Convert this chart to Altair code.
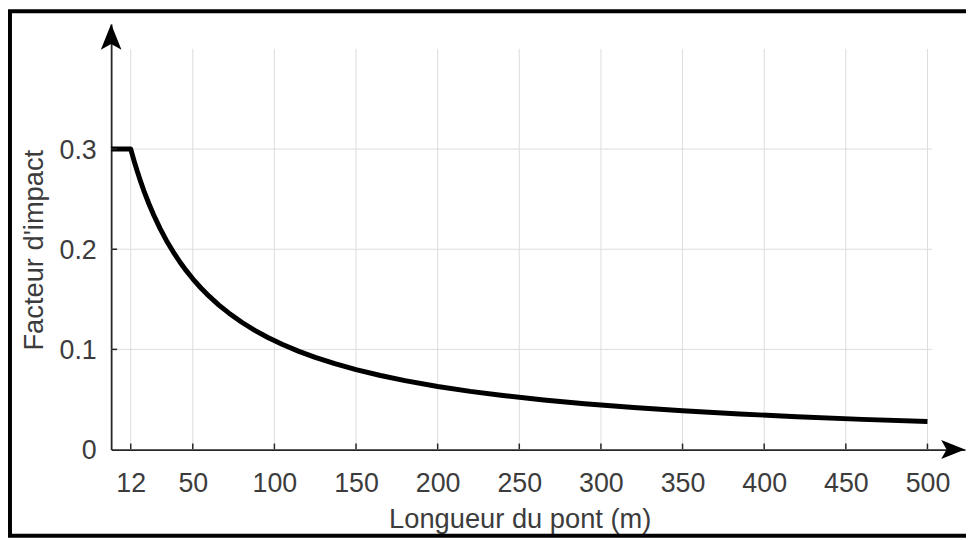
import altair as alt
import pandas as pd

# ---- data ----
longueur = [0, 12, 14, 16, 18, 20, 23, 26, 30, 34, 38, 42, 46, 50, 55, 60, 66, 72,
            80, 88, 96, 105, 115, 125, 137, 150, 165, 180, 200, 220, 240, 265, 290,
            320, 350, 385, 420, 460, 500]
facteur = [0.300, 0.300, 0.2885, 0.2778, 0.2679, 0.2586, 0.2459, 0.2344, 0.2206,
           0.2083, 0.1974, 0.1875, 0.1786, 0.1705, 0.1613, 0.1531, 0.1442, 0.1364,
           0.1271, 0.1190, 0.1119, 0.1049, 0.0980, 0.0920, 0.0857, 0.0798, 0.0739,
           0.0688, 0.0630, 0.0581, 0.0540, 0.0495, 0.0457, 0.0419, 0.0387, 0.0355,
           0.0328, 0.0301, 0.0279]
x_ticks = [12, 50, 100, 150, 200, 250, 300, 350, 400, 450, 500]
y_ticks = [0, 0.1, 0.2, 0.3]
x_title = "Longueur du pont (m)"
y_title = "Facteur d'impact"

# ---- layout ----
X_MAX = 523        # end of the x axis arrow
Y_MAX = 0.4248     # end of the y axis arrow
GRID_X_END = 503
GRID_Y_END = 0.4
W, H = 861, 429
PAD = {"left": 104, "top": 14, "right": 1, "bottom": 89}
FONT = "Liberation Sans"
TXT = "#3c3c3c"
AX = "#262626"
GRID = "#dddddd"
TICK_LEN = 6

xs = alt.Scale(domain=[0, X_MAX], nice=False, zero=False)
ys = alt.Scale(domain=[0, Y_MAX], nice=False, zero=False)

x_axis = alt.Axis(
    values=x_ticks, title=x_title, grid=False, ticks=False, tickSize=0,
    domain=True, domainColor=AX, domainWidth=1.8,
    labelFont=FONT, labelFontSize=27, labelColor=TXT, labelPadding=21,
    labelFlush=False, labelOverlap=False,
    titleFont=FONT, titleFontSize=27.5, titleFontWeight="normal", titleColor=TXT,
    titleX=412, titleY=79, titleAlign="center", titleBaseline="alphabetic")
y_axis = alt.Axis(
    values=y_ticks, format=".1~f", title=y_title, grid=False, ticks=False, tickSize=0,
    domain=True, domainColor=AX, domainWidth=1.8,
    labelFont=FONT, labelFontSize=27, labelColor=TXT, labelPadding=15,
    labelOffset=1.5, labelFlush=False, labelOverlap=False,
    titleFont=FONT, titleFontSize=27.5, titleFontWeight="normal", titleColor=TXT,
    titleAngle=270, titleX=-69, titleY=227.5, titleAlign="center",
    titleBaseline="alphabetic")

curve_df = pd.DataFrame({"L": longueur, "I": facteur})
xt_df = pd.DataFrame({"v": x_ticks})
yt_df = pd.DataFrame({"v": [v for v in y_ticks if v > 0]})

# vertical grid
vgrid = alt.Chart(xt_df).mark_rule(color=GRID, strokeWidth=1).transform_calculate(
    lo="0", hi=str(GRID_Y_END)
).encode(
    x=alt.X("v:Q", scale=xs, axis=x_axis),
    y=alt.Y("lo:Q", scale=ys, axis=y_axis),
    y2="hi:Q",
)
# horizontal grid
hgrid = alt.Chart(yt_df).mark_rule(color=GRID, strokeWidth=1).transform_calculate(
    lo="0", hi=str(GRID_X_END)
).encode(
    y=alt.Y("v:Q", scale=ys, axis=y_axis),
    x=alt.X("lo:Q", scale=xs, axis=x_axis),
    x2="hi:Q",
)

# curve
curve = alt.Chart(curve_df).mark_line(color="black", strokeWidth=5, strokeJoin="round").encode(
    x=alt.X("L:Q", scale=xs, axis=x_axis),
    y=alt.Y("I:Q", scale=ys, axis=y_axis),
)

# inward ticks
xtick = alt.Chart(xt_df).mark_rule(color=AX, strokeWidth=1.5).encode(
    x=alt.X("v:Q", scale=xs, axis=x_axis),
    y=alt.value(H),
    y2=alt.value(H - TICK_LEN),
)
ytick = alt.Chart(yt_df).mark_rule(color=AX, strokeWidth=1.5).encode(
    y=alt.Y("v:Q", scale=ys, axis=y_axis),
    x=alt.value(0),
    x2=alt.value(TICK_LEN),
)

# arrow heads at the ends of the axes
UP = "M0,0 L0.8,2 L0,1.55 L-0.8,2 Z"
RIGHT = "M0,0 L-2,-0.8 L-1.55,0 L-2,0.8 Z"
arrow_up = alt.Chart(pd.DataFrame({"x": [0], "y": [Y_MAX]})).mark_point(
    shape=UP, filled=True, size=676, color="black", opacity=1).encode(
    x=alt.X("x:Q", scale=xs, axis=x_axis), y=alt.Y("y:Q", scale=ys, axis=y_axis))
arrow_right = alt.Chart(pd.DataFrame({"x": [X_MAX], "y": [0]})).mark_point(
    shape=RIGHT, filled=True, size=576, color="black", opacity=1).encode(
    x=alt.X("x:Q", scale=xs, axis=x_axis), y=alt.Y("y:Q", scale=ys, axis=y_axis))

# outer frame (its right side falls outside the page)
frame = alt.Chart(pd.DataFrame({"k": [0]})).mark_rect(
    fillOpacity=0, stroke="black", strokeWidth=4).encode(
    x=alt.value(-PAD["left"] + 2),
    x2=alt.value(W + 40),
    y=alt.value(-PAD["top"] + 1),
    y2=alt.value(H + PAD["bottom"] - 2),
)

chart = alt.layer(vgrid, hgrid, curve, xtick, ytick, arrow_up, arrow_right, frame).properties(
    width=W, height=H,
    autosize=alt.AutoSizeParams(type="none"),
    padding=PAD,
    background="white",
).configure_view(strokeWidth=0)

chart.save("out.html", embed_options={"renderer": "svg", "actions": False})
